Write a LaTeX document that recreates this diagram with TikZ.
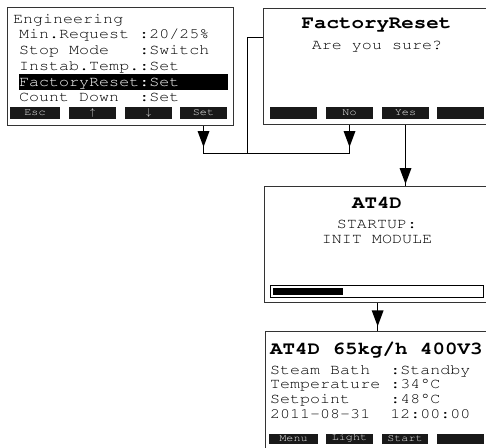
\documentclass[tikz,border=0pt]{standalone}
\usepackage[T1]{fontenc}
\usepackage{tikz}
\usetikzlibrary{calc}
\newcommand{\lcd}[1]{\scalebox{1.15}[1]{#1}}
\newcommand{\downtip}[1]{\fill [black] (#1) -- ++(-6,-16) -- ++(12,0) -- cycle;}

\begin{document}
\begin{tikzpicture}[x=1pt,y=-1pt]
				\tikzstyle{every node}+=[inner sep=0pt]
				\tikzstyle{screen}=[draw=black!80, line width=1.3pt, rectangle, anchor=north west]
				\tikzstyle{key}=[fill=black!90, text=black!8, rectangle, minimum height=12pt, font=\fontfamily{pcr}\fontsize{10.2}{11}\selectfont]
				\tikzstyle{line}=[anchor=base west, font=\fontfamily{pcr}\fontsize{14.5}{15}\selectfont]
				\tikzstyle{head}=[font=\fontfamily{pcr}\bfseries\fontsize{18.1}{19}\selectfont]
				\tikzstyle{mid}=[anchor=base, font=\fontfamily{pcr}\fontsize{14.5}{15}\selectfont]
				\useasboundingbox (0,0) rectangle (486,447);
				\node [screen, minimum width=226pt, minimum height=118pt] (eng) at (7,7) {};
				\node [screen, minimum width=227pt, minimum height=116pt] (rst) at (263,8) {};
				\node [screen, minimum width=226pt, minimum height=116pt] (boot) at (264,186) {};
				\node [screen, minimum width=225pt, minimum height=130pt] (home) at (265,331) {};
				\fill [black] (19,74) rectangle (228,90);
				\node [line] (eng-title) at (13,23) {\lcd{Engineering}};
				\node [line] (eng-min) at (19,38.5) {\lcd{Min.Request~:20/25\%}};
				\node [line] (eng-stop) at (19,54) {\lcd{Stop~Mode~~~:Switch}};
				\node [line] (eng-inst) at (19,70) {\lcd{Instab.Temp.:Set}};
				\node [line, text=white] (eng-fact) at (19,86) {\lcd{FactoryReset:Set}};
				\node [line] (eng-count) at (19,101.5) {\lcd{Count~Down~~:Set}};
				\node [key, minimum width=50pt] (esc) at (35,113) {\lcd{Esc}};
				\node [key, minimum width=47pt] (up) at (92.5,113) {$\uparrow$};
				\node [key, minimum width=47pt] (down) at (148.5,113) {$\downarrow$};
				\node [key, minimum width=47pt] (set) at (203.5,113) {\lcd{Set}};
				\node [head, anchor=base] (rst-title) at (376.5,28) {\lcd{FactoryReset}};
				\node [mid] (rst-ask) at (377,49) {\lcd{Are you sure?}};
				\node [key, minimum width=47pt] (rst-k1) at (293.5,113) {};
				\node [key, minimum width=47pt] (no) at (349.5,113) {\lcd{No}};
				\node [key, minimum width=47pt] (yes) at (405.5,113) {\lcd{Yes}};
				\node [key, minimum width=47pt] (rst-k4) at (460.5,113) {};
				\node [head, anchor=base] (boot-title) at (377,208) {\lcd{AT4D}};
				\node [mid] (boot-start) at (377,228) {\lcd{STARTUP:}};
				\node [mid] (boot-init) at (377,243) {\lcd{INIT MODULE}};
				\draw [black, line width=1pt] (270,285) rectangle (483,297);
				\fill [black] (272.5,287.5) rectangle (343,294.5);
				\node [head, anchor=base west] (home-title) at (270,354) {\lcd{AT4D 65kg/h 400V3}};
				\node [line] (home-bath) at (270,374) {\lcd{Steam~Bath~~:Standby}};
				\node [line] (home-temp) at (270,388.5) {\lcd{Temperature~:34\textdegree C}};
				\node [line] (home-set) at (270,403) {\lcd{Setpoint~~~~:48\textdegree C}};
				\node [line] (home-date) at (270,418) {\lcd{2011-08-31~~12:00:00}};
				\node [key, minimum width=49pt, minimum height=10pt] (menu) at (293.5,438.5) {\lcd{Menu}};
				\node [key, minimum width=47pt, minimum height=10pt] (light) at (349.5,438.5) {\lcd{Light}};
				\node [key, minimum width=46pt, minimum height=10pt] (start) at (405,438.5) {\lcd{Start}};
				\node [key, minimum width=47pt, minimum height=10pt] (home-k4) at (460.5,438.5) {};
				\coordinate (join) at (247,153);
				\coordinate (bend) at (247,37);
				\draw [black] (set |- eng.south) -- (set |- join) -- (no |- join) -- (no |- rst.south);
				\draw [black] (join) -- (bend) -- (bend -| rst.west);
				\downtip{$(set |- join)+(0,-6)$}
				\downtip{$(no |- join)+(0,-6)$}
				\draw [black] (yes |- rst.south) -- (yes |- boot.north);
				\downtip{$(yes |- boot.north)+(0,-2)$}
				\draw [black] (boot.south) -- (boot.south |- home.north);
				\downtip{$(boot.south)+(0,23)$}
			\end{tikzpicture}
\end{document}
